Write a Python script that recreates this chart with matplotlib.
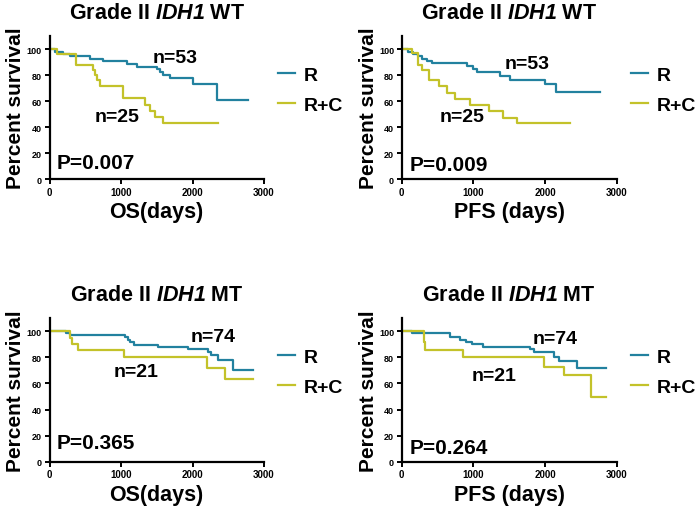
import matplotlib
matplotlib.use("Agg")
import matplotlib.pyplot as plt

plt.rcParams['font.family'] = ['Liberation Sans', 'DejaVu Sans']
plt.rcParams['font.weight'] = 'bold'
plt.rcParams['mathtext.fontset'] = 'custom'
plt.rcParams['mathtext.it'] = 'Liberation Sans:italic:bold'
plt.rcParams['mathtext.rm'] = 'Liberation Sans:italic:bold'

BLUE = '#22819f'
YELLOW = '#c3c22a'

# ---- data (days, percent survival) ----
# Panel A: Grade II IDH1 WT, OS
osWT_R_t = [0, 80, 195, 290, 570, 755, 1080, 1220, 1500, 1540, 1590, 1680, 2010, 2340, 2770]
osWT_R_s = [100, 98, 96.2, 94.3, 92.4, 90.5, 88.5, 86.4, 84.4, 82.2, 80, 77.5, 73.2, 61, 61]
osWT_RC_t = [0, 100, 372, 614, 637, 670, 706, 1033, 1340, 1400, 1470, 1590, 2360]
osWT_RC_s = [100, 96, 88, 84, 80, 76, 71.5, 62, 57, 52, 48, 43, 43]
# Panel B: Grade II IDH1 WT, PFS
pfsWT_R_t = [0, 90, 160, 230, 290, 350, 420, 910, 1000, 1050, 1370, 1510, 2000, 2150, 2760]
pfsWT_R_s = [100, 98, 96.2, 94.3, 92.4, 91, 89.5, 87.3, 85, 82.5, 79.5, 76.5, 72.8, 67.2, 67.2]
pfsWT_RC_t = [0, 140, 230, 284, 377, 516, 632, 749, 950, 1214, 1420, 1610, 2355]
pfsWT_RC_s = [100, 97, 88, 84, 76, 71.3, 66.2, 61.5, 57, 52, 47, 43, 43]
# Panel C: Grade II IDH1 MT, OS
osMT_R_t = [0, 230, 290, 1050, 1100, 1130, 1180, 1520, 1940, 2220, 2260, 2350, 2570, 2850]
osMT_R_s = [100, 98.6, 97.3, 95.8, 93.3, 91.5, 89.5, 88.1, 86.5, 84.5, 81.5, 77.7, 70.2, 70.2]
osMT_RC_t = [0, 290, 320, 405, 1035, 2200, 2460, 2850]
osMT_RC_s = [100, 95, 90.5, 85.5, 80, 72, 63.5, 63.5]
# Panel D: Grade II IDH1 MT, PFS
pfsMT_R_t = [0, 140, 675, 820, 900, 975, 1140, 1790, 1850, 2130, 2190, 2440, 2850]
pfsMT_R_s = [100, 98.5, 95.5, 93.5, 91.6, 90, 88.2, 86.3, 84.3, 80.5, 77.5, 72, 72]
pfsMT_RC_t = [0, 310, 330, 850, 1980, 2260, 2640, 2850]
pfsMT_RC_s = [100, 92, 85.5, 80, 72.8, 66.3, 49.5, 49.5]

titles = ['WT', 'WT', 'MT', 'MT']
xlabels = ['OS(days)', 'PFS (days)', 'OS(days)', 'PFS (days)']
pvals = ['P=0.007', 'P=0.009', 'P=0.365', 'P=0.264']
n_R = ['n=53', 'n=53', 'n=74', 'n=74']
n_RC = ['n=25', 'n=25', 'n=21', 'n=21']
series_labels = ['R', 'R+C']
xticks = [0, 1000, 2000, 3000]
yticks = [0, 20, 40, 60, 80, 100]

# annotation positions in data coords
nR_pos = [(1756, 93.8), (1744, 88.5), (2287, 95.9), (2139, 94.6)]
nRC_pos = [(944, 47.7), (848, 47.7), (1210, 68.9), (1288, 66.3)]
p_pos = [(105, 13), (106, 11.5), (100, 15), (106, 11)]

curves = [
    (osWT_R_t, osWT_R_s, osWT_RC_t, osWT_RC_s),
    (pfsWT_R_t, pfsWT_R_s, pfsWT_RC_t, pfsWT_RC_s),
    (osMT_R_t, osMT_R_s, osMT_RC_t, osMT_RC_s),
    (pfsMT_R_t, pfsMT_R_s, pfsMT_RC_t, pfsMT_RC_s),
]

fig = plt.figure(figsize=(7.0, 5.1), dpi=100)
W, H = 700, 510
boxes = [(49.5, 37, 264, 180), (401.7, 37, 616.7, 180),
         (49.5, 319.3, 264, 462.7), (401.7, 319.3, 616.7, 462.7)]

for i, (l, t, r, b) in enumerate(boxes):
    ax = fig.add_axes([l / W, 1 - b / H, (r - l) / W, (b - t) / H])
    rt, rs, ct, cs = curves[i]
    ax.plot(rt, rs, drawstyle='steps-post', color=BLUE, lw=1.6, label=series_labels[0])
    ax.plot(ct, cs, drawstyle='steps-post', color=YELLOW, lw=1.6, label=series_labels[1])
    ax.set_xlim(0, 3000)
    ax.set_ylim(0, 110)
    ax.set_xticks(xticks)
    ax.set_yticks(yticks)
    for s in ['top', 'right']:
        ax.spines[s].set_visible(False)
    for s in ['left', 'bottom']:
        ax.spines[s].set_linewidth(1.6)
    ax.tick_params(direction='out', length=3.5, width=1.4, labelsize=7, pad=2)
    ax.tick_params(axis='y', labelsize=6.5)
    for lab in ax.get_xticklabels() + ax.get_yticklabels():
        lab.set_fontweight('bold')
    ax.set_xlabel(xlabels[i], fontsize=15.5, fontweight='bold', labelpad=3)
    ax.set_ylabel('Percent survival', fontsize=15, fontweight='bold', labelpad=1)
    ax.set_title(r'Grade II $IDH1$ ' + titles[i], fontsize=15.5, fontweight='bold', pad=13)
    ax.text(*nR_pos[i], n_R[i], fontsize=14, fontweight='bold', ha='center', va='center')
    ax.text(*nRC_pos[i], n_RC[i], fontsize=14, fontweight='bold', ha='center', va='center')
    ax.text(*p_pos[i], pvals[i], fontsize=15, fontweight='bold', ha='left', va='center')
    ax.legend(loc='upper left', bbox_to_anchor=(1.065, 0.79), frameon=False,
              fontsize=14, handlelength=0.9, handletextpad=0.45, labelspacing=0.65,
              borderpad=0, borderaxespad=0)

fig.savefig('out.png', dpi=100)
